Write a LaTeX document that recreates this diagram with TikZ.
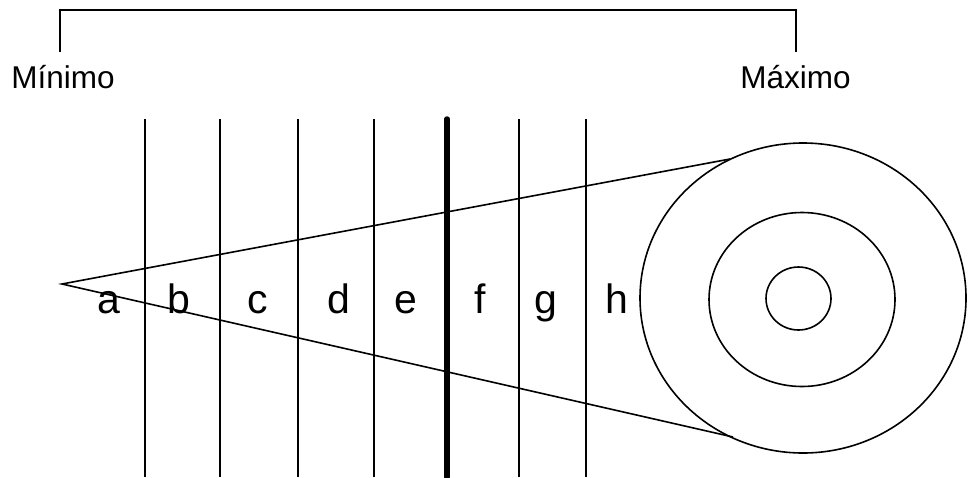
\documentclass[tikz,border=0pt]{standalone}
\usepackage{fontspec}
\setmainfont{Liberation Sans}
\tikzset{
  thin line/.style={line width=1.6pt, black},
  thick line/.style={line width=5.5pt, black},
  endlabel/.style={inner sep=0pt, anchor=base, font=\fontsize{31.5}{36}\selectfont},
  zonelabel/.style={inner sep=0pt, anchor=base, font=\fontsize{41}{48}\selectfont},
}
\begin{document}
\begin{tikzpicture}[x=1pt,y=-1pt]
\useasboundingbox (0,0) rectangle (968,477);
% bracket
\coordinate (bl) at (60,52);
\coordinate (br) at (796,52);
\draw[thin line] (bl) -- (60,10) -- (796,10) -- (br);
\node[endlabel] (min) at (63,88) {Mínimo};
\node[endlabel] (max) at (795.5,88) {Máximo};
% vertical lines
\foreach \x/\n in {145/v1,220/v2,298/v3,374/v4,519/v6,586/v7}{
  \coordinate (\n t) at (\x,119);
  \coordinate (\n b) at (\x,477);
  \draw[thin line] (\n t) -- (\n b);
}
\coordinate (v5t) at (447,119);
\coordinate (v5b) at (447,477);
\draw[thick line, line cap=round] (v5t) -- (v5b);
% cone
\coordinate (apex) at (62,284);
\coordinate (up) at (730,159);
\coordinate (lo) at (733,437);
\draw[thin line] (up) -- (apex) -- (lo);
% circles
\draw[thin line] (803,298) ellipse [x radius=163, y radius=155];
\draw[thin line] (802,299.5) ellipse [x radius=93, y radius=87];
\draw[thin line] (798.5,298.5) ellipse [x radius=32.5, y radius=31.5];
% zone labels
\foreach \x/\t in {109/a,179/b,258/c,339/d,406/e,480/f,545.5/g,617/h}{
  \node[zonelabel] (z\t) at (\x,313) {\t};
}
\end{tikzpicture}
\end{document}
